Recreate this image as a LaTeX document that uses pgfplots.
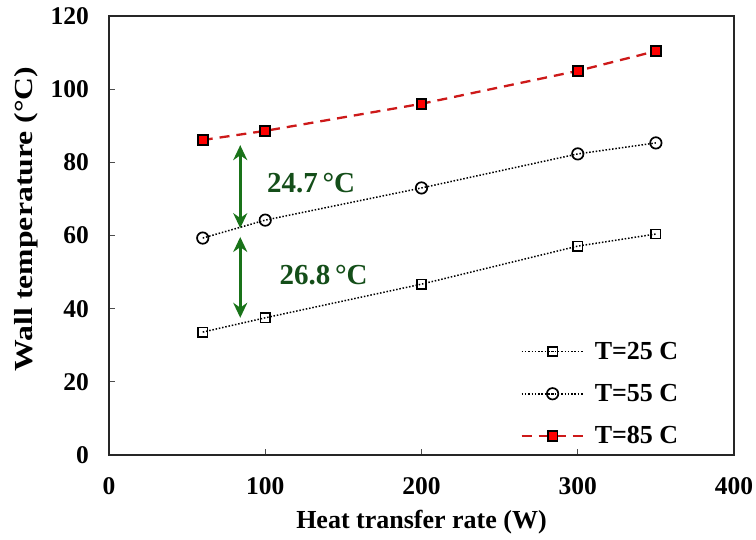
\documentclass[border=0pt]{standalone}
\usepackage{fontspec}
\setmainfont{Liberation Serif}
\usepackage{pgfplots}
\pgfplotsset{compat=1.18}
\usetikzlibrary{arrows.meta}
\definecolor{myred}{RGB}{205,25,25}
\definecolor{arrowgreen}{RGB}{25,115,25}
\definecolor{textgreen}{RGB}{20,78,25}
\begin{document}
\begin{tikzpicture}
\useasboundingbox (-109pt,-85pt) rectangle (647pt,455pt);
\begin{axis}[
  scale only axis, width=625pt, height=439pt,
  xmin=0, xmax=400, ymin=0, ymax=120,
  xtick={0,100,200,300,400}, ytick={0,20,40,60,80,100,120},
  tick align=inside, xtick pos=bottom, ytick pos=left,
  major tick length=6pt,
  tick style={black!70, line width=0.8pt},
  axis line style={line width=1.4pt, black!85},
  /pgf/number format/assume math mode=true,
  ticklabel style={font=\fontsize{25.5}{27}\selectfont\bfseries, inner sep=0pt},
  xticklabel style={anchor=north, yshift=-22pt},
  yticklabel style={anchor=east, xshift=-20pt},
  xlabel={Heat transfer rate (W)},
  ylabel={\scalebox{1.22}[1]{Wall temperature (°C)}},
  label style={font=\fontsize{26}{28}\selectfont\bfseries, inner sep=0pt},
  xlabel style={at={(axis description cs:0.5,0)}, anchor=base, yshift=-74pt},
  ylabel style={at={(axis description cs:-0.152,0.538)}, anchor=north},
  legend cell align=left,
  legend style={draw=none, fill=none, at={(rel axis cs:0.658,0.262)}, anchor=north west,
    font=\fontsize{26}{28}\selectfont\bfseries, row sep=19.5pt, inner sep=0pt,
    nodes={inner sep=2pt},
    /tikz/every odd column/.append style={column sep=8pt}},
  legend image code/.code={\draw[mark repeat=2,mark phase=2,#1] plot coordinates {(0pt,0pt) (31pt,0pt) (62pt,0pt)};},
]
\addplot[black, line width=1.5pt, dash pattern=on 1.5pt off 1.8pt,
  mark=square, mark size=4.7pt, mark options={solid, line width=1.5pt, fill=white}]
  coordinates {(60,33.6) (100,37.5) (200,46.7) (300,57.1) (350,60.4)};
\addlegendentry{T=25 C}
\addplot[black, line width=1.5pt, dash pattern=on 1.5pt off 1.8pt,
  mark=o, mark size=5.7pt, mark options={solid, line width=1.7pt, fill=white}]
  coordinates {(60,59.3) (100,64.2) (200,73.0) (300,82.3) (350,85.3)};
\addlegendentry{T=55 C}
\addplot[myred, line width=2.3pt, dash pattern=on 10pt off 7pt,
  mark=square*, mark size=4.9pt, mark options={solid, draw=black, line width=1.9pt, fill=red}]
  coordinates {(60,86.1) (100,88.6) (200,96.0) (300,105.0) (350,110.4)};
\addlegendentry{T=85 C}
\addplot[arrowgreen, line width=2.6pt, forget plot, {Stealth[length=15pt,width=14pt]}-{Stealth[length=15pt,width=14pt]}]
  coordinates {(84,84.7) (84,62.0)};
\addplot[arrowgreen, line width=2.6pt, forget plot, {Stealth[length=15pt,width=14pt]}-{Stealth[length=15pt,width=14pt]}]
  coordinates {(84,59.6) (84,37.5)};
\node[anchor=west, text=textgreen, font=\fontsize{29}{31}\selectfont\bfseries, inner sep=0pt]
  at (axis cs:101,74.4) {24.7\,°C};
\node[anchor=west, text=textgreen, font=\fontsize{29}{31}\selectfont\bfseries, inner sep=0pt]
  at (axis cs:109,49.2) {26.8\,°C};
\end{axis}
\end{tikzpicture}
\end{document}
